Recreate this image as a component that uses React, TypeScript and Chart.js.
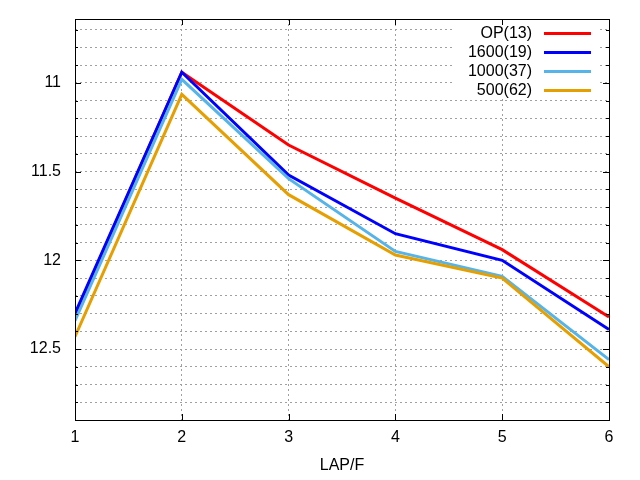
import { useEffect, useRef } from "react";
import { Chart, registerables } from "chart.js";

Chart.register(...registerables);

// x positions (LAP/F)
const xValues = [1, 2, 3, 4, 5, 6];

const seriesLabels = ["OP(13)", "1600(19)", "1000(37)", "500(62)"];
const seriesColors = ["#ff0000", "#0000ff", "#56b4e9", "#e69f00"];

const opValues = [12.31, 10.94, 11.35, 11.65, 11.94, 12.32];
const v1600Values = [12.3, 10.94, 11.52, 11.85, 12.0, 12.39];
const v1000Values = [12.34, 10.98, 11.54, 11.95, 12.09, 12.56];
const v500Values = [12.43, 11.065, 11.63, 11.97, 12.1, 12.6];

const yLabelTicks = [11, 11.5, 12, 12.5];
const yMin = 10.64;
const yMax = 12.9;
const yMinorStep = 0.1;

const FONT = "'Liberation Sans', Arial, sans-serif";
const FONT_SIZE = 16;

const allSeries = [opValues, v1600Values, v1000Values, v500Values];

// grid values every 0.1 inside the range
const yGridValues: number[] = [];
for (let v = Math.ceil(yMin * 10) / 10; v <= yMax + 1e-9; v += yMinorStep) {
  yGridValues.push(Math.round(v * 10) / 10);
}

const isLabelled = (v: number) => yLabelTicks.some((t) => Math.abs(t - v) < 1e-6);

const framePlugin = {
  id: "gnuplotFrame",
  beforeDatasetsDraw(chart: any) {
    // white key box covering the grid
    const { ctx, chartArea } = chart;
    ctx.save();
    ctx.fillStyle = "#ffffff";
    ctx.fillRect(454, chartArea.top + 1, 145, 79);
    ctx.restore();
  },
  afterDraw(chart: any) {
    const { ctx, chartArea } = chart;
    const { left, right, top, bottom } = chartArea;
    const xs = chart.scales.x;
    const ys = chart.scales.y;
    ctx.save();
    ctx.strokeStyle = "#000000";
    ctx.lineWidth = 1;
    ctx.setLineDash([]);
    ctx.strokeRect(Math.round(left) + 0.5, Math.round(top) + 0.5, Math.round(right - left), Math.round(bottom - top));

    ctx.beginPath();
    yGridValues.forEach((v) => {
      const y = Math.round(ys.getPixelForValue(v)) + 0.5;
      const len = isLabelled(v) ? 6 : 3;
      ctx.moveTo(left, y);
      ctx.lineTo(left + len, y);
      ctx.moveTo(right, y);
      ctx.lineTo(right - len, y);
    });
    xValues.forEach((v) => {
      const x = Math.round(xs.getPixelForValue(v)) + 0.5;
      ctx.moveTo(x, bottom);
      ctx.lineTo(x, bottom - 6);
      ctx.moveTo(x, top);
      ctx.lineTo(x, top + 6);
    });
    ctx.stroke();

    // key
    ctx.font = `${FONT_SIZE}px ${FONT}`;
    ctx.textAlign = "right";
    ctx.textBaseline = "middle";
    chart.data.datasets.forEach((ds: any, i: number) => {
      const y = 33 + i * 19;
      ctx.fillStyle = "#000000";
      ctx.fillText(ds.label, 532, y + 1);
      ctx.strokeStyle = ds.borderColor;
      ctx.lineWidth = 3;
      ctx.beginPath();
      ctx.moveTo(544, y + 0.5);
      ctx.lineTo(591, y + 0.5);
      ctx.stroke();
    });
    ctx.restore();
  },
};

export default function App() {
  const canvasRef = useRef<HTMLCanvasElement>(null);
  const chartRef = useRef<Chart | null>(null);

  useEffect(() => {
    if (!canvasRef.current) return;
    if (chartRef.current) chartRef.current.destroy();

    chartRef.current = new Chart(canvasRef.current, {
      type: "line",
      data: {
        datasets: allSeries.map((vals, i) => ({
          label: seriesLabels[i],
          data: vals.map((y, j) => ({ x: xValues[j], y })),
          borderColor: seriesColors[i],
          backgroundColor: seriesColors[i],
          borderWidth: 3,
          pointRadius: 0,
          tension: 0,
          fill: false,
          order: allSeries.length - i,
        })),
      },
      options: {
        animation: false,
        responsive: true,
        maintainAspectRatio: false,
        layout: { padding: { left: 0, right: 31, top: 19, bottom: 0 } },
        plugins: {
          legend: { display: false },
          tooltip: { enabled: false },
        },
        scales: {
          x: {
            type: "linear",
            min: 1,
            max: 6,
            afterFit: (scale: any) => {
              scale.height = 60;
              scale.paddingLeft = 0;
              scale.paddingRight = 0;
            },
            afterBuildTicks: (scale: any) => {
              scale.ticks = xValues.map((v) => ({ value: v }));
            },
            ticks: {
              color: "#000000",
              padding: 8,
              maxRotation: 0,
              font: { family: FONT, size: FONT_SIZE },
              callback: (v: any) => String(v),
            },
            grid: { color: "#a0a0a0", lineWidth: 1, drawTicks: false },
            border: { display: false, dash: [2, 3] },
            title: {
              display: true,
              text: "LAP/F",
              color: "#000000",
              font: { family: FONT, size: FONT_SIZE },
              padding: { top: 0, bottom: 5 },
            },
          },
          y: {
            type: "linear",
            reverse: true,
            min: yMin,
            max: yMax,
            afterFit: (scale: any) => {
              scale.width = 75;
              scale.paddingTop = 0;
              scale.paddingBottom = 0;
            },
            afterBuildTicks: (scale: any) => {
              scale.ticks = yGridValues.map((v) => ({ value: v }));
            },
            ticks: {
              color: "#000000",
              padding: 14,
              autoSkip: false,
              font: { family: FONT, size: FONT_SIZE },
              callback: (v: any) => (isLabelled(Number(v)) ? String(Number(v)) : ""),
            },
            grid: { color: "#a0a0a0", lineWidth: 1, drawTicks: false },
            border: { display: false, dash: [2, 3] },
          },
        },
      },
      plugins: [framePlugin],
    });

    return () => {
      chartRef.current?.destroy();
      chartRef.current = null;
    };
  }, []);

  return (
    <div style={{ position: "absolute", left: 0, top: 0, width: 640, height: 480, background: "#fff" }}>
      <canvas ref={canvasRef} />
    </div>
  );
}
